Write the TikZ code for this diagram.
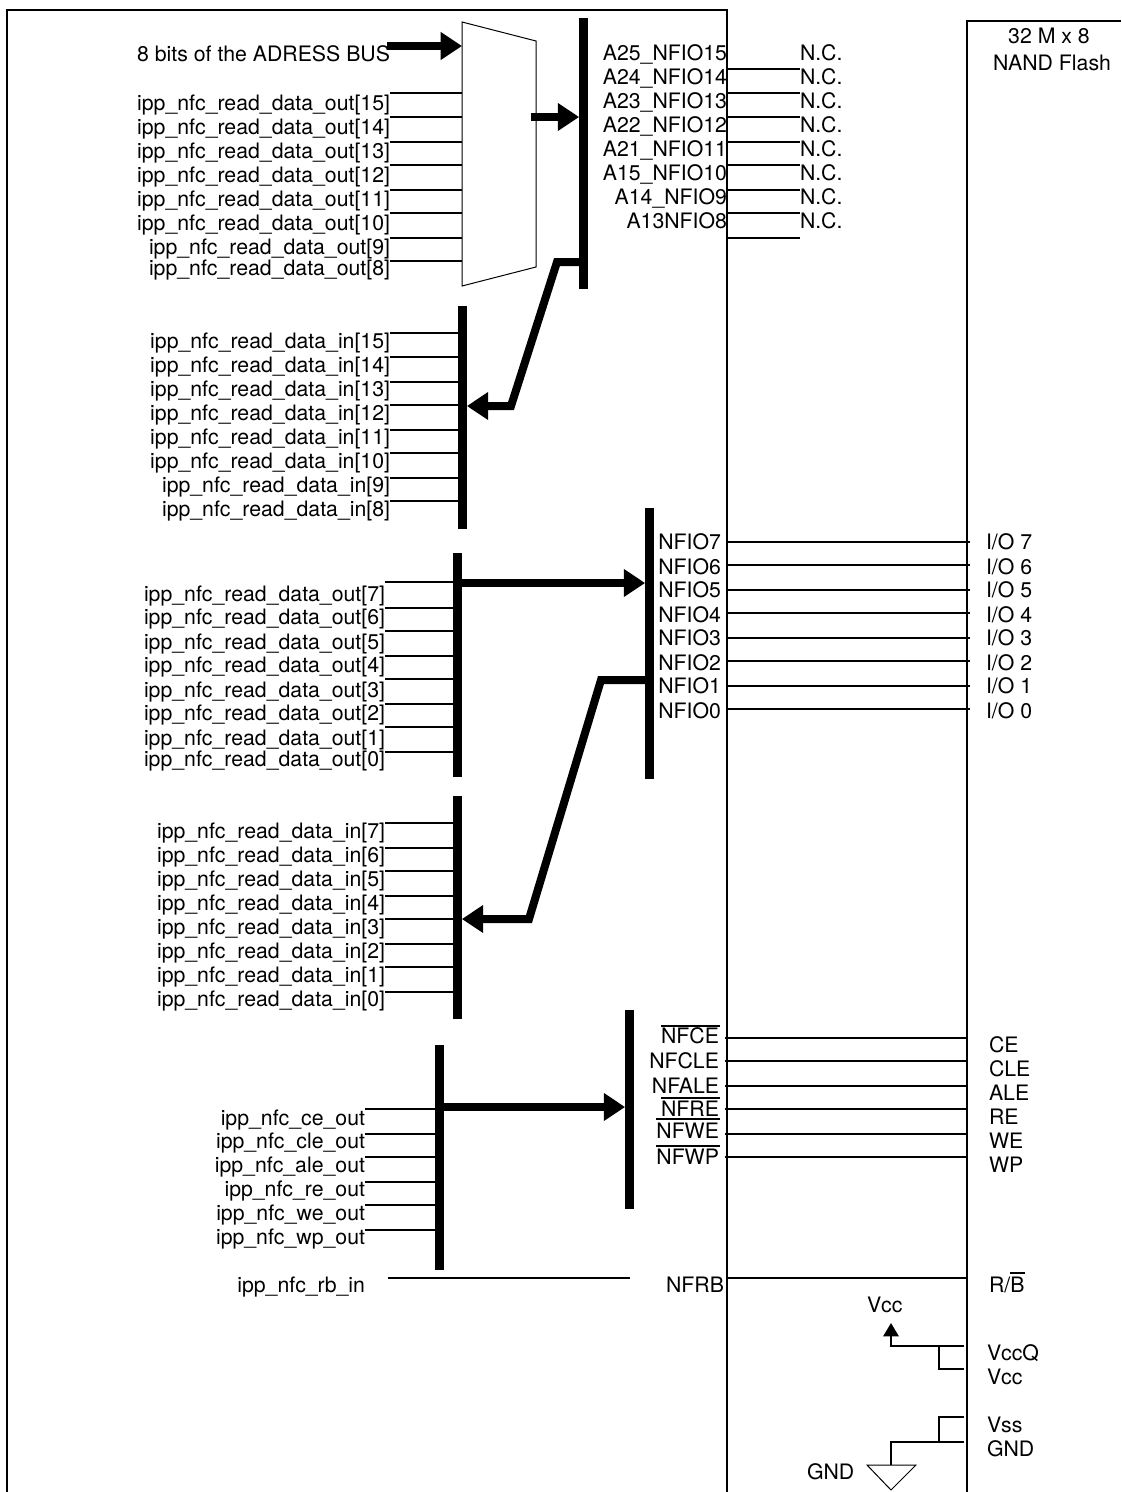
\documentclass[tikz,border=0pt]{standalone}
\usepackage{fontspec}
\setmainfont{TeX Gyre Heros}
\usetikzlibrary{arrows.meta,calc}
\tikzset{
  lbl/.style={inner sep=0pt,outer sep=0pt,font=\fontsize{15.95pt}{18pt}\selectfont},
  wire/.style={line width=1.5pt,line cap=butt},
  thinw/.style={line width=0.75pt,line join=miter},
  busbar/.style={fill=black,draw=none,inner sep=0pt,outer sep=0pt,minimum width=6.6pt},
  busarrow/.style={line width=6pt,line join=miter,-{Triangle[length=16pt,width=20pt]}},
}
% name, x, top, bottom
\newcommand{\busnode}[4]{\node[busbar,minimum height={(#4-#3)*0.75pt}] (#1) at ({#2},{(#3+#4)/2}) {};}
% prefix, text right x, bus node, list line/baseline/text
\newcommand{\leftpins}[4]{%
  \foreach \ly/\by/\t [count=\i] in {#4} {
    \node[lbl,anchor=base east] (#1l\i) at (#2,\by) {\t};
    \coordinate (#1c\i) at (#2,\ly);
    \draw[wire] (#1c\i) -- (#1c\i -| #3);
  }}
% prefix, text right x, left wire x, right wire x, right label x, list line/baseline/left text/right baseline/right text
\newcommand{\rightpins}[6]{%
  \foreach \ly/\by/\t/\rb/\r [count=\i] in {#6} {
    \node[lbl,anchor=base east] (#1l\i) at (#2,\by) {\t};
    \node[lbl,anchor=base west] (#1r\i) at (#5,\rb) {\r};
    \coordinate (#1a\i) at (#3,\ly);
    \coordinate (#1b\i) at (#4,\ly);
    \draw[wire] (#1a\i) -- (#1b\i);
  }}
\begin{document}
\begin{tikzpicture}[x=0.75pt,y=-0.75pt]
\useasboundingbox (0,0) rectangle (1121,1492);
% frames
\coordinate (fbl) at (7,1492);
\coordinate (ftl) at (7,9.5);
\coordinate (ftr) at (727,9.5);
\coordinate (fbr) at (727,1492);
\draw[wire] (fbl) -- (ftl) -- (ftr) -- (fbr);
\coordinate (nbl) at (967,1492);
\coordinate (ntl) at (967,21);
\coordinate (ntr) at (1121,21);
\draw[wire] (nbl) -- (ntl) -- (ntr);
\node[lbl,anchor=base] (nand1) at (1049,43) {32 M x 8};
\node[lbl,anchor=base] (nand2) at (1052,70) {NAND Flash};
% buses
\busnode{b1}{583.5}{18}{289}
\busnode{b2}{462.5}{306}{529}
\busnode{b3}{457.5}{553}{777}
\busnode{b4}{649.5}{508}{779}
\busnode{b5}{457.5}{796}{1019}
\busnode{b6}{439.5}{1045}{1270}
\busnode{b7}{629.5}{1010}{1209}
% mux
\coordinate (m1) at (462,22);
\coordinate (m2) at (536,41);
\coordinate (m3) at (536,267);
\coordinate (m4) at (462,286);
\draw[thinw] (m1) -- (m2) -- (m3) -- (m4) -- cycle;
% address input
\node[lbl,anchor=base east] (addr) at (390,61) {8 bits of the ADRESS BUS};
\coordinate (addrs) at (387,46);
\draw[busarrow] (addrs) -- (addrs -| m1);
\coordinate (muxo) at (531,117);
\draw[busarrow] (muxo) -- (muxo -| b1.west);
% left groups
\leftpins{g}{390}{m1}{93/110/ipp\_nfc\_read\_data\_out[15],117/134/ipp\_nfc\_read\_data\_out[14],142/158/ipp\_nfc\_read\_data\_out[13],165/182/ipp\_nfc\_read\_data\_out[12],190/206/ipp\_nfc\_read\_data\_out[11],213/230/ipp\_nfc\_read\_data\_out[10],238/254/ipp\_nfc\_read\_data\_out[9],261/275/ipp\_nfc\_read\_data\_out[8]}
\leftpins{h}{390}{b2}{333/348/ipp\_nfc\_read\_data\_in[15],357/372/ipp\_nfc\_read\_data\_in[14],382/396/ipp\_nfc\_read\_data\_in[13],405/420/ipp\_nfc\_read\_data\_in[12],430/444/ipp\_nfc\_read\_data\_in[11],453/468/ipp\_nfc\_read\_data\_in[10],478/492/ipp\_nfc\_read\_data\_in[9],501/516/ipp\_nfc\_read\_data\_in[8]}
\leftpins{j}{385}{b3}{582/601/ipp\_nfc\_read\_data\_out[7],608/624/ipp\_nfc\_read\_data\_out[6],631/649/ipp\_nfc\_read\_data\_out[5],656/672/ipp\_nfc\_read\_data\_out[4],679/697/ipp\_nfc\_read\_data\_out[3],704/720/ipp\_nfc\_read\_data\_out[2],727/745/ipp\_nfc\_read\_data\_out[1],752/766/ipp\_nfc\_read\_data\_out[0]}
\leftpins{k}{385}{b5}{823/838/ipp\_nfc\_read\_data\_in[7],848/862/ipp\_nfc\_read\_data\_in[6],871/886/ipp\_nfc\_read\_data\_in[5],896/910/ipp\_nfc\_read\_data\_in[4],919/934/ipp\_nfc\_read\_data\_in[3],944/958/ipp\_nfc\_read\_data\_in[2],967/982/ipp\_nfc\_read\_data\_in[1],992/1006/ipp\_nfc\_read\_data\_in[0]}
\leftpins{p}{365}{b6}{1109/1125/ipp\_nfc\_ce\_out,1134/1148/ipp\_nfc\_cle\_out,1157/1172/ipp\_nfc\_ale\_out,1182/1196/ipp\_nfc\_re\_out,1205/1220/ipp\_nfc\_we\_out,1230/1244/ipp\_nfc\_wp\_out}
% bus arrows
\coordinate (a1a) at (557,262);
\coordinate (a1b) at (511,406);
\draw[busarrow] (b1.center |- a1a) -- (a1a) -- (a1b) -- (a1b -| b2.east);
\coordinate (a2) at (462,583);
\draw[busarrow] (a2) -- (a2 -| b4.west);
\coordinate (a3a) at (601,680);
\coordinate (a3b) at (529,919);
\draw[busarrow] (b4.center |- a3a) -- (a3a) -- (a3b) -- (a3b -| b5.east);
\coordinate (a4) at (444,1107);
\draw[busarrow] (a4) -- (a4 -| b7.west);
% N.C. pins
\foreach \ly/\by/\t [count=\i] in {69/60/A25\_NFIO15,93/84/A24\_NFIO14,117/108/A23\_NFIO13,142/132/A22\_NFIO12,165/156/A21\_NFIO11,190/180/A15\_NFIO10,213/204/A14\_NFIO9,238/228/A13NFIO8} {
  \node[lbl,anchor=base east] (al\i) at (727,\by) {\t};
  \node[lbl,anchor=base west] (nc\i) at (800,\by) {N.C.};
  \coordinate (ac\i) at (727,\ly);
  \coordinate (ad\i) at (800,\ly);
  \draw[wire] (ac\i) -- (ad\i);
}
% data pins
\rightpins{d}{721}{727}{970}{986}{542/549/NFIO7/549/{I/O 7},565/574/NFIO6/574/{I/O 6},590/597/NFIO5/597/{I/O 5},613/622/NFIO4/622/{I/O 4},638/645/NFIO3/645/{I/O 3},661/670/NFIO2/670/{I/O 2},686/693/NFIO1/693/{I/O 1},709/718/NFIO0/718/{I/O 0}}
% control pins
\rightpins{c}{719}{725}{967}{989}{1038/1043/NFCE/1052/CE,1061/1068/NFCLE/1076/CLE,1086/1093/NFALE/1100/ALE,1109/1116/NFRE/1124/RE,1134/1138/NFWE/1148/WE,1157/1164/NFWP/1172/WP}
\draw[wire] (cl1.west |- 0,1026) -- (720,1026);
\draw[wire] (cl4.west |- 0,1098) -- (720,1098);
\draw[wire] (cl5.west |- 0,1119) -- (720,1119);
\draw[wire] (cl6.west |- 0,1146) -- (720,1146);
% ready/busy
\node[lbl,anchor=base east] (rbin) at (365,1292) {ipp\_nfc\_rb\_in};
\node[lbl,anchor=base east] (nfrb) at (724,1292) {NFRB};
\node[lbl,anchor=base west] (rb) at (989,1292) {R/B};
\draw[wire] (1010,1273) -- (1025,1273);
\coordinate (rb1) at (388,1278);
\coordinate (rb2) at (630,1278);
\coordinate (rb3) at (727,1278);
\draw[wire] (rb1) -- (rb2);
\draw[wire] (rb3) -- (rb3 -| nbl);
% power
\node[lbl,anchor=base west] (vcct) at (867,1312) {Vcc};
\node[lbl,anchor=base west] (vccq) at (987,1360) {VccQ};
\node[lbl,anchor=base west] (vcc) at (987,1384) {Vcc};
\node[lbl,anchor=base west] (vss) at (987,1432) {Vss};
\node[lbl,anchor=base west] (gndp) at (987,1456) {GND};
\node[lbl,anchor=base west] (gndl) at (807,1479) {GND};
\coordinate (v0) at (891,1323);
\coordinate (v1) at (891,1346);
\coordinate (v2) at (964,1346);
\coordinate (v3) at (939,1346);
\coordinate (v4) at (939,1369);
\coordinate (v5) at (964,1369);
\draw[wire,-{Triangle[length=10pt,width=11.5pt]}] (v2) -- (v1) -- (v0);
\draw[wire] (v3) -- (v4) -- (v5);
\coordinate (s1) at (964,1417);
\coordinate (s2) at (939,1417);
\coordinate (s3) at (939,1442);
\coordinate (s4) at (964,1442);
\coordinate (s5) at (891,1442);
\coordinate (s6) at (891,1465);
\draw[wire] (s1) -- (s2) -- (s3);
\draw[wire] (s4) -- (s5) -- (s6);
\coordinate (t1) at (867,1465);
\coordinate (t2) at (916,1465);
\coordinate (t3) at (891,1490);
\draw[thinw] (t1) -- (t2) -- (t3) -- cycle;
\end{tikzpicture}
\end{document}
